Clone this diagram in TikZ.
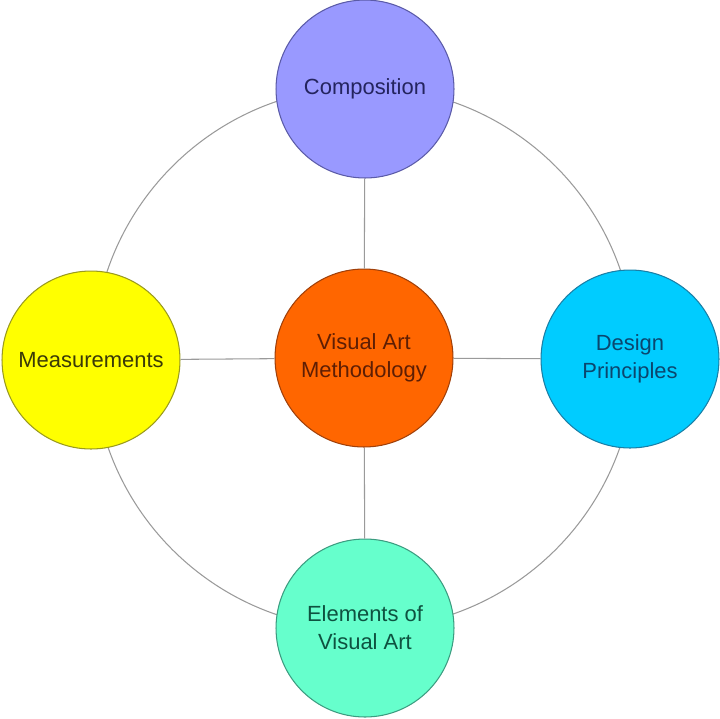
\documentclass[tikz,border=0pt]{standalone}
\usepackage{fontspec}
\setmainfont{Liberation Sans}
\usepackage{tikz}
\definecolor{compfill}{HTML}{9999FF}
\definecolor{compdraw}{HTML}{5B5BA8}
\definecolor{comptext}{HTML}{24245E}
\definecolor{desfill}{HTML}{00CCFF}
\definecolor{desdraw}{HTML}{1A7FA6}
\definecolor{destext}{HTML}{0B466E}
\definecolor{measfill}{HTML}{FFFF00}
\definecolor{measdraw}{HTML}{9A9A1E}
\definecolor{meastext}{HTML}{3A3A08}
\definecolor{elemfill}{HTML}{66FFCC}
\definecolor{elemdraw}{HTML}{3C9C80}
\definecolor{elemtext}{HTML}{0E5240}
\definecolor{methfill}{HTML}{FF6600}
\definecolor{methdraw}{HTML}{A0400A}
\definecolor{methtext}{HTML}{5E1E04}
\definecolor{spokegray}{HTML}{9A9A9A}
\tikzset{mycircle/.style={draw,circle,minimum size=3.56cm,inner sep=0pt,line width=0.6pt,
  align=center,font=\fontsize{12.5}{16}\selectfont},
myspoke/.style={draw=spokegray,line width=0.6pt}}

\begin{document}
\begin{tikzpicture}[x=0.02cm,y=-0.02cm]
\useasboundingbox (0,0) rectangle (720,718);
\coordinate (hub) at (364,358);
\draw[myspoke] (hub) circle[radius=271];
\node[mycircle,fill=compfill,draw=compdraw,text=comptext] (comp) at (365,89) {Composition};
\node[mycircle,fill=desfill,draw=desdraw,text=destext] (des) at (630,359) {Design\\Principles};
\node[mycircle,fill=measfill,draw=measdraw,text=meastext] (meas) at (91,360) {Measurements};
\node[mycircle,fill=elemfill,draw=elemdraw,text=elemtext] (elem) at (365,628) {Elements of\\Visual Art};
\node[mycircle,fill=methfill,draw=methdraw,text=methtext] (meth) at (hub) {Visual Art\\Methodology};
\draw[myspoke] (meth) -- (comp);
\draw[myspoke] (meth) -- (des);
\draw[myspoke] (meth) -- (meas);
\draw[myspoke] (meth) -- (elem);
\end{tikzpicture}
\end{document}
